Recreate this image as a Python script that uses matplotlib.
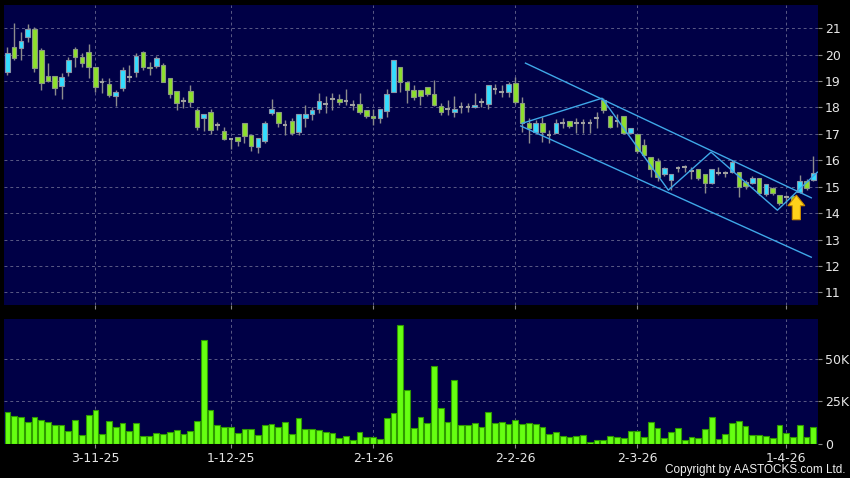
import numpy as np
import matplotlib.pyplot as plt
from matplotlib.patches import FancyArrow

# daily OHLC (120 sessions)
opens = [19.36, 20.28, 20.27, 20.68, 20.96, 20.18, 19.19, 19.19, 18.80, 19.33,
         20.20, 19.93, 20.09, 19.52, 18.98, 18.89, 18.45, 18.75, 19.17, 19.36,
         20.09, 19.54, 19.58, 19.60, 19.11, 18.63, 18.25, 18.63, 17.91, 17.61,
         17.82, 17.32, 17.12, 16.82, 16.87, 17.40, 16.95, 16.52, 16.73, 17.78,
         17.82, 17.34, 17.50, 17.08, 17.59, 17.74, 17.94, 18.13, 18.31, 18.31,
         18.25, 18.09, 18.12, 17.90, 17.68, 17.59, 17.87, 18.57, 19.55, 18.98,
         18.66, 18.66, 18.76, 18.50, 18.07, 17.94, 17.84, 18.01, 18.03, 18.01,
         18.21, 18.12, 18.70, 18.60, 18.60, 18.91, 18.16, 17.40, 17.08, 17.40,
         16.96, 17.05, 17.43, 17.49, 17.43, 17.40, 17.40, 17.62, 18.30, 17.66,
         17.47, 17.66, 17.02, 16.98, 16.58, 16.11, 15.96, 15.50, 15.25, 15.72,
         15.75, 15.60, 15.66, 15.47, 15.13, 15.51, 15.51, 15.57, 15.57, 15.19,
         15.13, 15.32, 14.71, 14.96, 14.69, 14.60, 14.65, 14.81, 15.23, 15.25]
highs = [20.30, 21.19, 20.87, 21.15, 21.06, 20.24, 19.67, 19.19, 19.29, 19.93,
         20.28, 20.05, 20.41, 19.52, 19.10, 19.10, 18.66, 19.55, 19.59, 20.08,
         20.15, 19.73, 19.95, 19.67, 19.11, 18.63, 18.41, 18.85, 17.97, 17.74,
         17.94, 17.46, 17.27, 16.85, 16.87, 17.40, 16.95, 16.83, 17.49, 18.31,
         17.82, 17.53, 17.59, 17.74, 18.09, 18.03, 18.56, 18.44, 18.54, 18.51,
         18.69, 18.28, 18.56, 17.90, 17.93, 17.94, 18.69, 19.80, 19.55, 18.98,
         18.85, 18.66, 18.78, 19.04, 18.16, 18.28, 18.44, 18.20, 18.16, 18.54,
         18.35, 18.85, 18.89, 18.85, 18.98, 19.14, 18.41, 17.59, 17.53, 17.65,
         17.15, 17.55, 17.59, 17.49, 17.59, 17.56, 17.55, 17.84, 18.36, 17.72,
         17.75, 17.68, 17.21, 16.98, 16.80, 16.11, 16.09, 15.75, 15.50, 15.80,
         15.82, 15.76, 15.66, 15.47, 15.66, 15.76, 15.61, 16.01, 15.57, 15.25,
         15.41, 15.32, 15.09, 15.00, 14.69, 14.69, 14.69, 15.44, 15.28, 16.16]
lows = [19.23, 19.80, 19.80, 20.49, 19.36, 18.66, 18.98, 18.47, 18.32, 19.19,
        19.55, 19.55, 19.13, 18.57, 18.54, 18.41, 18.07, 18.62, 18.98, 19.17,
        19.42, 19.23, 19.48, 18.98, 18.35, 17.91, 17.97, 18.03, 17.15, 17.12,
        16.99, 17.15, 16.77, 16.41, 16.54, 16.64, 16.36, 16.29, 16.64, 17.72,
        17.27, 16.96, 16.96, 16.96, 17.27, 17.53, 17.78, 17.80, 17.90, 18.09,
        18.09, 17.90, 17.74, 17.59, 17.34, 17.43, 17.65, 18.57, 18.60, 18.18,
        18.28, 18.09, 18.43, 18.06, 17.72, 17.72, 17.65, 17.78, 17.84, 17.97,
        18.03, 17.93, 18.51, 18.41, 18.38, 18.12, 17.08, 16.67, 17.05, 16.70,
        16.64, 17.02, 17.21, 17.24, 17.05, 17.02, 17.02, 17.21, 17.80, 17.21,
        17.27, 16.99, 17.02, 16.29, 16.14, 15.38, 15.22, 15.42, 14.88, 15.54,
        15.57, 15.28, 15.25, 14.75, 15.10, 15.44, 15.35, 15.53, 14.62, 14.90,
        15.10, 14.69, 14.65, 14.69, 14.31, 14.37, 14.37, 14.77, 14.88, 15.23]
closes = [20.05, 19.89, 20.52, 20.96, 19.48, 18.92, 19.02, 18.73, 19.16, 19.79,
          19.93, 19.67, 19.52, 18.76, 18.98, 18.47, 18.57, 19.42, 19.17, 19.95,
          19.55, 19.48, 19.86, 18.98, 18.51, 18.16, 18.25, 18.20, 17.27, 17.74,
          17.15, 17.32, 16.79, 16.82, 16.74, 16.92, 16.55, 16.83, 17.40, 17.93,
          17.43, 17.34, 17.02, 17.74, 17.74, 17.90, 18.25, 18.13, 18.31, 18.22,
          18.25, 18.09, 17.82, 17.68, 17.59, 17.94, 18.50, 19.80, 18.98, 18.66,
          18.41, 18.45, 18.51, 18.09, 17.84, 17.94, 17.94, 18.01, 18.03, 18.09,
          18.21, 18.85, 18.70, 18.60, 18.89, 18.22, 17.40, 17.21, 17.40, 17.08,
          16.96, 17.40, 17.43, 17.30, 17.43, 17.40, 17.40, 17.62, 17.90, 17.27,
          17.47, 17.02, 17.21, 16.37, 16.21, 15.66, 15.38, 15.70, 15.50, 15.72,
          15.75, 15.60, 15.34, 15.13, 15.66, 15.51, 15.51, 15.95, 15.00, 15.03,
          15.32, 14.75, 15.09, 14.77, 14.37, 14.60, 14.40, 15.23, 14.94, 15.51]
# volume in thousands of shares
volume = [19.0, 16.5, 15.7, 12.9, 16.1, 14.1, 12.9, 11.0, 11.4, 7.6,
          13.9, 5.3, 17.1, 20.0, 5.7, 13.5, 9.8, 12.2, 7.6, 12.2,
          4.9, 4.7, 6.3, 6.1, 6.9, 8.2, 5.9, 7.6, 13.5, 61.0,
          19.8, 11.4, 10.0, 10.0, 6.7, 8.7, 8.9, 5.3, 11.2, 11.8,
          10.2, 13.1, 5.9, 15.3, 8.7, 8.9, 8.2, 7.3, 6.5, 3.7,
          4.7, 2.2, 6.9, 4.3, 4.3, 2.9, 15.3, 18.4, 70.0, 31.6,
          9.4, 15.7, 12.2, 46.1, 21.0, 13.1, 37.6, 11.0, 11.0, 12.2,
          10.0, 19.0, 12.5, 13.1, 11.9, 14.1, 11.8, 12.2, 11.6, 10.2,
          5.7, 7.1, 4.5, 4.3, 4.7, 5.3, 1.4, 2.2, 2.2, 4.5,
          4.1, 3.7, 7.6, 7.8, 4.1, 12.9, 9.2, 3.7, 6.9, 9.6,
          2.4, 4.3, 3.5, 8.9, 15.9, 2.9, 5.9, 12.2, 13.5, 10.6,
          5.3, 5.3, 4.5, 3.7, 11.0, 6.5, 4.3, 11.2, 4.1, 10.0]

date_idx = [13, 33, 54, 75, 93, 115]
date_labels = ["3-11-25", "1-12-25", "2-1-26", "2-2-26", "2-3-26", "1-4-26"]
price_ticks = [11, 12, 13, 14, 15, 16, 17, 18, 19, 20, 21]
vol_ticks = [0, 25, 50]
vol_labels = ["0", "25K", "50K"]

# drawn trend channel + zigzag (bar index, price)
upper_line = ([76.5, 118.7], [19.68, 14.58])
lower_line = ([75.8, 118.7], [17.30, 12.33])
zigzag_x = [76.0, 87.8, 97.6, 103.9, 113.7, 119.6]
zigzag_y = [17.40, 18.35, 14.87, 16.31, 14.11, 15.55]
arrow_x, arrow_top, arrow_bottom = 116.5, 14.69, 13.75

BG = '#000046'
UP = '#33ddff'
DOWN = '#8de02c'
GRID = '#5a5a85'
LINE = '#3fa8e8'

fig = plt.figure(figsize=(8.5, 4.78), dpi=100, facecolor='black')
ax = fig.add_axes([0.0047, 0.3619, 0.9577, 0.6276], facecolor=BG)
axv = fig.add_axes([0.0047, 0.0711, 0.9577, 0.2615], facecolor=BG)

x = np.arange(len(closes))
o = np.array(opens); c = np.array(closes)
h = np.array(highs); l = np.array(lows)

ax.vlines(x, l, h, color='#8c8c8c', lw=1.0, zorder=2)
doji = np.abs(c - o) < 0.02
up = (c > o) & ~doji
dn = (c < o) & ~doji
bw = 0.68
ax.bar(x[up], (c - o)[up], bottom=o[up], width=bw, color=UP,
       edgecolor='#8a96a8', lw=0.8, zorder=3)
ax.bar(x[dn], (o - c)[dn], bottom=c[dn], width=bw, color=DOWN,
       edgecolor='#8a9a80', lw=0.8, zorder=3)
ax.hlines(o[doji], x[doji] - bw / 2, x[doji] + bw / 2, color='#a0a0a0', lw=1.5, zorder=3)

ax.plot(*upper_line, color=LINE, lw=1.0, zorder=4)
ax.plot(*lower_line, color=LINE, lw=1.0, zorder=4)
ax.plot(zigzag_x, zigzag_y, color=LINE, lw=1.0, zorder=4)
ax.add_patch(FancyArrow(arrow_x, arrow_bottom, 0, arrow_top - arrow_bottom - 0.01,
                        width=1.2, head_width=2.5, head_length=0.4,
                        length_includes_head=True, facecolor='#ffd21a',
                        edgecolor='#c88a00', lw=0.8, zorder=5))

ax.set_xlim(-0.5, 119.7)
ax.set_ylim(10.52, 21.88)
ax.set_yticks(price_ticks)
ax.set_xticks(date_idx)
ax.set_xticklabels([])

axv.bar(x, volume, width=0.85, color='#66ff11', edgecolor='#2f9a00', lw=0.8, zorder=3)
axv.set_xlim(-0.5, 119.7)
axv.set_ylim(0, 73.5)
axv.set_yticks(vol_ticks)
axv.set_yticklabels(vol_labels)
axv.set_xticks(date_idx)
axv.set_xticklabels(date_labels)

for a in (ax, axv):
    a.grid(True, color=GRID, ls=(0, (3, 3)), lw=0.7, zorder=0)
    a.set_axisbelow(True)
    a.yaxis.tick_right()
    a.tick_params(axis='y', colors='#888888', labelcolor='#e6e6e6', length=3,
                  width=0.8, pad=2, labelsize=9)
    a.tick_params(axis='x', colors='#888888', labelcolor='#e6e6e6', length=3,
                  width=0.8, pad=2.5, labelsize=9)
    for s in a.spines.values():
        s.set_visible(False)

fig.text(0.995, 0.004, "Copyright by AASTOCKS.com Ltd.", color='#f0f0f0',
         fontsize=8.5, family=['Liberation Sans Narrow', 'Liberation Sans', 'DejaVu Sans'],
         ha='right', va='bottom')

fig.savefig('out.png', dpi=100, facecolor='black')
